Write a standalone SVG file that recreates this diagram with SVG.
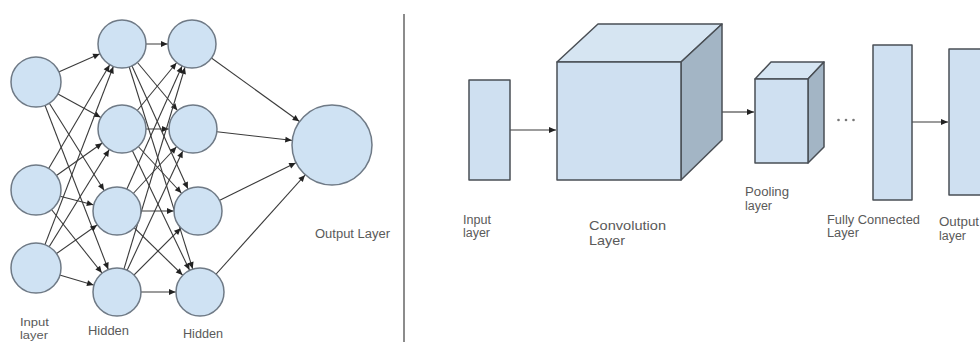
<svg xmlns="http://www.w3.org/2000/svg" width="980" height="342" viewBox="0 0 980 342">
  <defs>
    <style>
      .node { fill: #cfe2f3; stroke: #6f7a86; stroke-width: 1.5; }
      .edge { stroke: #3a3a3a; stroke-width: 1.1; fill: none; }
      .front { fill: #cfe0f1; stroke: #4a4f55; stroke-width: 1.5; stroke-linejoin: round; }
      .top { fill: #d6e5f2; stroke: #4a4f55; stroke-width: 1.5; stroke-linejoin: round; }
      .side { fill: #a3b5c5; stroke: #4a4f55; stroke-width: 1.5; stroke-linejoin: round; }
      .label { font-family: "Liberation Sans", Arial, sans-serif; font-size: 12px; fill: #5a5a5a; }
      .big { font-size: 13px; }
      .small { font-size: 11px; }
    </style>
    <!-- arrowheads whose tip sits on the rim of a target circle (radius 24 / 40) -->
    <marker id="tip24" markerUnits="userSpaceOnUse" markerWidth="80" markerHeight="20" refX="0" refY="0" orient="auto" overflow="visible">
      <path d="M-31,-3 L-24.5,0 L-31,3 Z" fill="#222"/>
    </marker>
    <marker id="tip40" markerUnits="userSpaceOnUse" markerWidth="80" markerHeight="20" refX="0" refY="0" orient="auto" overflow="visible">
      <path d="M-47,-3 L-40.5,0 L-47,3 Z" fill="#222"/>
    </marker>
    <marker id="tip" markerUnits="userSpaceOnUse" markerWidth="10" markerHeight="10" refX="0" refY="0" orient="auto" overflow="visible">
      <path d="M-7,-3 L0,0 L-7,3 Z" fill="#222"/>
    </marker>
  </defs>

  <rect x="0" y="0" width="980" height="342" fill="#ffffff"/>

  <!-- divider between the two panels -->
  <line x1="404" y1="14" x2="404" y2="342" stroke="#8c8c8c" stroke-width="2"/>

  <!-- connectors of the fully connected network (center to center, hidden under nodes) -->
  <g id="connectors">
    <g class="edge" marker-end="url(#tip24)">
      <!-- input -> hidden 1 -->
      <line x1="36" y1="82" x2="122" y2="44"/>
      <line x1="36" y1="82" x2="122" y2="129"/>
      <line x1="36" y1="82" x2="117" y2="211"/>
      <line x1="36" y1="82" x2="117" y2="292"/>
      <line x1="36" y1="190" x2="122" y2="44"/>
      <line x1="36" y1="190" x2="122" y2="129"/>
      <line x1="36" y1="190" x2="117" y2="211"/>
      <line x1="36" y1="190" x2="117" y2="292"/>
      <line x1="36" y1="268" x2="122" y2="44"/>
      <line x1="36" y1="268" x2="122" y2="129"/>
      <line x1="36" y1="268" x2="117" y2="211"/>
      <line x1="36" y1="268" x2="117" y2="292"/>
      <!-- hidden 1 -> hidden 2 -->
      <line x1="122" y1="44" x2="192" y2="44"/>
      <line x1="122" y1="44" x2="193" y2="129"/>
      <line x1="122" y1="44" x2="198" y2="211"/>
      <line x1="122" y1="44" x2="200" y2="292"/>
      <line x1="122" y1="129" x2="192" y2="44"/>
      <line x1="122" y1="129" x2="193" y2="129"/>
      <line x1="122" y1="129" x2="198" y2="211"/>
      <line x1="122" y1="129" x2="200" y2="292"/>
      <line x1="117" y1="211" x2="192" y2="44"/>
      <line x1="117" y1="211" x2="193" y2="129"/>
      <line x1="117" y1="211" x2="198" y2="211"/>
      <line x1="117" y1="211" x2="200" y2="292"/>
      <line x1="117" y1="292" x2="192" y2="44"/>
      <line x1="117" y1="292" x2="193" y2="129"/>
      <line x1="117" y1="292" x2="198" y2="211"/>
      <line x1="117" y1="292" x2="200" y2="292"/>
    </g>
    <g class="edge" marker-end="url(#tip40)">
      <!-- hidden 2 -> output -->
      <line x1="192" y1="44" x2="332" y2="145"/>
      <line x1="193" y1="129" x2="332" y2="145"/>
      <line x1="198" y1="211" x2="332" y2="145"/>
      <line x1="200" y1="292" x2="332" y2="145"/>
    </g>
    <g class="edge" marker-end="url(#tip)">
      <!-- CNN pipeline -->
      <line x1="510" y1="130" x2="556" y2="130"/>
      <line x1="722" y1="112" x2="754" y2="112"/>
      <line x1="912" y1="122" x2="948" y2="122"/>
    </g>
  </g>

  <!-- network nodes -->
  <g id="in1"><circle class="node" cx="36" cy="82" r="25"/></g>
  <g id="in2"><circle class="node" cx="36" cy="190" r="25"/></g>
  <g id="in3"><circle class="node" cx="36" cy="268" r="25"/></g>
  <g id="h1a"><circle class="node" cx="122" cy="44" r="24"/></g>
  <g id="h1b"><circle class="node" cx="122" cy="129" r="24"/></g>
  <g id="h1c"><circle class="node" cx="117" cy="211" r="24"/></g>
  <g id="h1d"><circle class="node" cx="117" cy="292" r="24"/></g>
  <g id="h2a"><circle class="node" cx="192" cy="44" r="24"/></g>
  <g id="h2b"><circle class="node" cx="193" cy="129" r="24"/></g>
  <g id="h2c"><circle class="node" cx="198" cy="211" r="24"/></g>
  <g id="h2d"><circle class="node" cx="200" cy="292" r="24"/></g>
  <g id="out"><circle class="node" cx="332" cy="145" r="40"/></g>

  <!-- network labels -->
  <g id="nn-labels">
    <text class="label small" x="20" y="326" textLength="29" lengthAdjust="spacingAndGlyphs">Input</text>
    <text class="label small" x="20" y="339" textLength="28" lengthAdjust="spacingAndGlyphs">layer</text>
    <text class="label" x="88" y="335" textLength="41" lengthAdjust="spacingAndGlyphs">Hidden</text>
    <text class="label" x="183" y="338" textLength="40" lengthAdjust="spacingAndGlyphs">Hidden</text>
    <text class="label" x="315" y="238" textLength="75" lengthAdjust="spacingAndGlyphs">Output Layer</text>
  </g>

  <!-- CNN blocks -->
  <g id="cnn-input">
    <rect class="front" x="469" y="80" width="41" height="100"/>
    <text class="label" x="463" y="224" textLength="28" lengthAdjust="spacingAndGlyphs">Input</text>
    <text class="label" x="463" y="237" textLength="27" lengthAdjust="spacingAndGlyphs">layer</text>
  </g>

  <g id="cnn-conv">
    <polygon class="top" points="557,62 598,24 722,24 681,62"/>
    <polygon class="side" points="681,62 722,24 722,140 681,180"/>
    <rect class="front" x="557" y="62" width="124" height="118"/>
    <text class="label big" x="589" y="230" textLength="77" lengthAdjust="spacingAndGlyphs">Convolution</text>
    <text class="label big" x="589" y="245" textLength="36" lengthAdjust="spacingAndGlyphs">Layer</text>
  </g>

  <g id="cnn-pool">
    <polygon class="top" points="755,79 771,62 824,62 808,79"/>
    <polygon class="side" points="808,79 824,62 824,147 808,163"/>
    <rect class="front" x="755" y="79" width="53" height="84"/>
    <text class="label" x="745" y="196" textLength="44" lengthAdjust="spacingAndGlyphs">Pooling</text>
    <text class="label" x="745" y="210" textLength="27" lengthAdjust="spacingAndGlyphs">layer</text>
  </g>

  <g id="cnn-ellipsis" fill="#777">
    <circle cx="838.5" cy="120" r="1.3"/>
    <circle cx="846" cy="120" r="1.3"/>
    <circle cx="853.5" cy="120" r="1.3"/>
  </g>

  <g id="cnn-fc">
    <rect class="front" x="873" y="45" width="39" height="155"/>
    <text class="label" x="827" y="224" textLength="93" lengthAdjust="spacingAndGlyphs">Fully Connected</text>
    <text class="label" x="827" y="237" textLength="32" lengthAdjust="spacingAndGlyphs">Layer</text>
  </g>

  <g id="cnn-output">
    <rect class="front" x="949" y="49" width="45" height="146"/>
    <text class="label" x="939" y="226" textLength="40" lengthAdjust="spacingAndGlyphs">Output</text>
    <text class="label" x="939" y="240" textLength="27" lengthAdjust="spacingAndGlyphs">layer</text>
  </g>
</svg>
